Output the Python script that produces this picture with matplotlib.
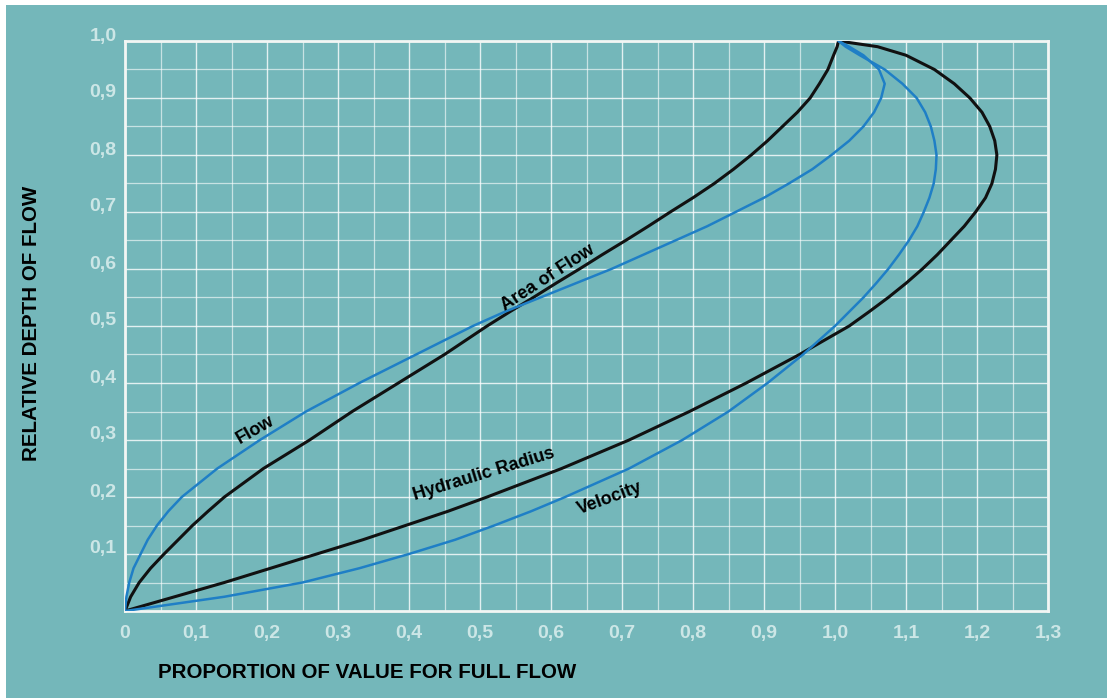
import numpy as np
import matplotlib
matplotlib.use('Agg')
import matplotlib.pyplot as plt
from matplotlib.patches import Rectangle
from matplotlib.transforms import ScaledTranslation

plt.rc('font', family=['Liberation Sans', 'DejaVu Sans'])

# DATA
depth = [0, 0.025, 0.05, 0.075, 0.1, 0.125, 0.15, 0.175, 0.2, 0.25, 0.3, 0.35, 0.4, 0.45,
         0.5, 0.525, 0.55, 0.575, 0.6, 0.625, 0.65, 0.675, 0.7, 0.725, 0.75, 0.775, 0.8,
         0.825, 0.85, 0.875, 0.9, 0.925, 0.95, 0.975, 0.99, 1.0]
area = [0, 0.008, 0.02, 0.036, 0.055, 0.075, 0.095, 0.117, 0.14, 0.195, 0.26, 0.32, 0.385, 0.45,
        0.51, 0.542, 0.575, 0.607, 0.64, 0.672, 0.705, 0.737, 0.768, 0.8, 0.83, 0.857, 0.882,
        0.905, 0.926, 0.947, 0.965, 0.978, 0.99, 0.998, 1.003, 1.005]
flow = [0, 0.002, 0.006, 0.012, 0.022, 0.032, 0.045, 0.061, 0.08, 0.13, 0.19, 0.255, 0.33, 0.41,
        0.49, 0.535, 0.585, 0.635, 0.685, 0.73, 0.775, 0.82, 0.86, 0.90, 0.935, 0.968, 0.995,
        1.02, 1.04, 1.055, 1.065, 1.07, 1.062, 1.04, 1.02, 1.005]
velocity = [0, 0.14, 0.25, 0.33, 0.40, 0.465, 0.52, 0.572, 0.62, 0.71, 0.785, 0.85, 0.905, 0.955,
            1.0, 1.02, 1.04, 1.058, 1.075, 1.09, 1.104, 1.116, 1.125, 1.133, 1.139, 1.142, 1.143,
            1.14, 1.135, 1.127, 1.115, 1.095, 1.07, 1.035, 1.015, 1.005]
radius = [0, 0.07, 0.14, 0.205, 0.27, 0.335, 0.395, 0.455, 0.51, 0.615, 0.71, 0.795, 0.875, 0.95,
          1.02, 1.048, 1.075, 1.10, 1.123, 1.144, 1.163, 1.182, 1.198, 1.212, 1.221, 1.226, 1.228,
          1.225, 1.218, 1.207, 1.19, 1.168, 1.14, 1.1, 1.06, 1.005]

x_ticks = [0, 0.1, 0.2, 0.3, 0.4, 0.5, 0.6, 0.7, 0.8, 0.9, 1.0, 1.1, 1.2, 1.3]
x_labels = ['0', '0,1', '0,2', '0,3', '0,4', '0,5', '0,6', '0,7', '0,8', '0,9', '1,0', '1,1', '1,2', '1,3']
y_ticks = [0.1, 0.2, 0.3, 0.4, 0.5, 0.6, 0.7, 0.8, 0.9, 1.0]
y_labels = ['0,1', '0,2', '0,3', '0,4', '0,5', '0,6', '0,7', '0,8', '0,9', '1,0']

TEAL = '#74b7ba'
BLUE = '#1f7fc6'
INK = '#111111'
TICK = '#dcefee'

# FIGURE
fig = plt.figure(figsize=(11.07, 6.99), dpi=100, facecolor='white')
fig.patches.append(Rectangle((6 / 1107, 1 / 699), 1 - 6 / 1107, 693 / 699,
                             transform=fig.transFigure, facecolor=TEAL,
                             edgecolor='none', zorder=-10))

ax = fig.add_axes([125 / 1107, 88 / 699, 923 / 1107, 570 / 699])
ax.set_zorder(2)
ax.set_facecolor(TEAL)
ax.set_xlim(0, 1.3)
ax.set_ylim(0, 1.0)

ax.set_xticks(x_ticks)
ax.set_xticklabels(x_labels)
ax.set_yticks(y_ticks)
ax.set_yticklabels(y_labels)
ax.set_xticks(np.arange(0.05, 1.3, 0.1), minor=True)
ax.set_yticks(np.arange(0.05, 1.0, 0.1), minor=True)
ax.tick_params(which='both', length=0)
ax.tick_params(axis='x', pad=10, labelsize=14, labelcolor=TICK)
ax.tick_params(axis='y', pad=6, labelsize=14, labelcolor=TICK)
for lab in ax.get_xticklabels() + ax.get_yticklabels():
    lab.set_fontweight('bold')
    lab.set_alpha(0.85)
for lab in ax.get_yticklabels():
    lab.set_transform(lab.get_transform() + ScaledTranslation(0, 0.07, fig.dpi_scale_trans))

ax.grid(which='major', color='white', lw=1.0, alpha=0.8)
ax.grid(which='minor', color='white', lw=0.9, alpha=0.6)
ax.set_axisbelow(True)
for s in ax.spines.values():
    s.set_color('#f2f6f4')
    s.set_linewidth(2)

# CURVES
ax.plot(area, depth, color=INK, lw=2.2, solid_capstyle='round', solid_joinstyle='round', zorder=3)
ax.plot(radius, depth, color=INK, lw=2.2, solid_capstyle='round', solid_joinstyle='round', zorder=3)
ax.plot(flow, depth, color=BLUE, lw=1.8, solid_capstyle='round', solid_joinstyle='round', zorder=4)
ax.plot(velocity, depth, color=BLUE, lw=1.8, solid_capstyle='round', solid_joinstyle='round', zorder=4)

# CURVE LABELS
lab_kw = dict(color='black', fontsize=13, fontweight='bold', ha='center', va='center', zorder=5)
ax.text(0.183, 0.318, 'Flow', rotation=30, **lab_kw)
ax.text(0.595, 0.585, 'Area of Flow', rotation=33, **lab_kw)
ax.text(0.505, 0.24, 'Hydraulic Radius', rotation=17, **lab_kw)
ax.text(0.683, 0.198, 'Velocity', rotation=20, **lab_kw)

# AXIS TITLES
fig.text(158 / 1107, 1 - 672 / 699, 'PROPORTION OF VALUE FOR FULL FLOW',
         fontsize=14.8, fontweight='bold', color='black', ha='left', va='center')
fig.text(32 / 1107, 1 - 323 / 699, 'RELATIVE DEPTH OF FLOW', rotation=90,
         fontsize=14.8, fontweight='bold', color='black', ha='center', va='center')

fig.savefig('out.png', dpi=100, facecolor='white')
